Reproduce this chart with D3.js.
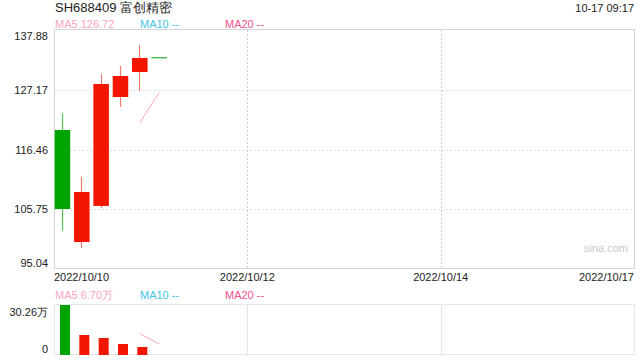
<!DOCTYPE html>
<html>
<head>
<meta charset="utf-8">
<script src="https://cdn.jsdelivr.net/npm/d3@7"></script>
<style>
  body { margin: 0; background: #fff; }
  svg text { font-family: "Liberation Sans", Arial, sans-serif; }
</style>
</head>
<body>
<div id="chart"></div>
<script>
// candle data (one entry per slot, 30 slots across the axis)
var openP  = [119.97,  99.80, 106.30, 125.91, 130.41, 133.06];
var highP  = [122.97, 111.56, 130.05, 131.54, 135.27, 133.06];
var lowP   = [101.84,  98.73, 105.90, 124.11, 127.04, 133.06];
var closeP = [105.75, 108.81, 128.25, 129.69, 132.93, 133.06];
var upDay  = [false, true, true, true, true, false];
var volume = [30.26, 12.10, 10.30, 6.66, 4.84, 0];
var ma5Price  = [null, null, null, null, 121.30, 126.72];
var ma5Volume = [null, null, null, null, 12.83, 6.70];

var priceTicks = [95.04, 105.75, 116.46, 127.17, 137.88];
var volTicks = [0, 30.26];
var dateLabels = ["2022/10/10", "2022/10/12", "2022/10/14", "2022/10/17"];
var dateSlots = [0, 10, 20, 30];
var nSlots = 30;

var svgWidth = 640, svgHeight = 360;
var left = 54, right = 634;
var mainTop = 30, mainBottom = 269;
var volTop = 305, volBottom = 355;

var red = "#f21500", green = "#00a400";
var redWick = "#f47a70", greenWick = "#55c455";
var pink = "#fda4c2", cyan = "#3fc6e6", rose = "#f2508c";

var svg = d3.select("#chart").append("svg").attr("width", svgWidth).attr("height", svgHeight);

var x = d3.scaleLinear().domain([0, nSlots]).range([left, right]);
var slotW = x(1) - x(0);
var y = d3.scaleLinear().domain([95.04, 137.88]).range([268.5, 30.5]);
var yv = d3.scaleLinear().domain([0, 30.26]).range([volBottom, volTop]);

// header
svg.append("text").attr("x", 55).attr("y", 12).attr("font-size", 13).attr("fill", "#222")
   .text("SH688409 富创精密");
svg.append("text").attr("x", 634).attr("y", 12).attr("font-size", 11).attr("fill", "#222")
   .attr("text-anchor", "end").text("10-17 09:17");

function legend(yPos, ma5Text) {
  svg.append("text").attr("x", 55).attr("y", yPos).attr("font-size", 11).attr("fill", pink).text(ma5Text);
  svg.append("text").attr("x", 140).attr("y", yPos).attr("font-size", 11).attr("fill", cyan).text("MA10 --");
  svg.append("text").attr("x", 225).attr("y", yPos).attr("font-size", 11).attr("fill", rose).text("MA20 --");
}
legend(28, "MA5 126.72");
legend(299, "MA5 6.70万");

// main panel grid
var main = svg.append("g");
main.selectAll(".hgrid").data(priceTicks.slice(1, -1)).enter().append("line")
    .attr("x1", left).attr("x2", right)
    .attr("y1", d => Math.round(y(d)) + 0.5).attr("y2", d => Math.round(y(d)) + 0.5)
    .attr("stroke", "#ddd").attr("stroke-dasharray", "2,2");
main.selectAll(".vgrid").data(dateSlots.slice(1, -1)).enter().append("line")
    .attr("x1", d => Math.round(x(d)) + 0.5).attr("x2", d => Math.round(x(d)) + 0.5)
    .attr("y1", mainTop).attr("y2", mainBottom)
    .attr("stroke", "#ccc").attr("stroke-dasharray", "2,2");
main.append("rect").attr("x", left + 0.5).attr("y", mainTop - 0.5)
    .attr("width", right - left).attr("height", mainBottom - mainTop)
    .attr("fill", "none").attr("stroke", "#d4d4d4");

// price axis
var yAxis = svg.append("g").attr("transform", `translate(${left - 3},0)`)
   .call(d3.axisLeft(y).tickValues(priceTicks).tickSize(0).tickFormat(d3.format(".2f")));
yAxis.select(".domain").remove();
yAxis.selectAll("text").attr("font-size", 11).attr("fill", "#222").attr("font-family", null)
     .attr("dy", (d, i) => i === priceTicks.length - 1 ? "0.85em" : (i === 0 ? "-0.2em" : "0.32em"));

// date labels
svg.selectAll(".date").data(dateLabels).enter().append("text")
   .attr("x", (d, i) => x(dateSlots[i]))
   .attr("y", 281).attr("font-size", 11).attr("fill", "#222")
   .attr("text-anchor", (d, i) => i === 0 ? "start" : (i === dateLabels.length - 1 ? "end" : "middle"))
   .text(d => d);

svg.append("text").attr("x", 628).attr("y", 252).attr("font-size", 11).attr("fill", "#c8c8c8")
   .attr("text-anchor", "end").text("sina.com");

// candles
var idx = d3.range(openP.length);
main.selectAll(".wick").data(idx).enter().append("line")
    .attr("x1", i => Math.round(x(i) + 8) + 0.5).attr("x2", i => Math.round(x(i) + 8) + 0.5)
    .attr("y1", i => y(highP[i])).attr("y2", i => y(lowP[i]))
    .attr("stroke", i => upDay[i] ? redWick : greenWick).attr("stroke-width", 1.2);
main.selectAll(".body").data(idx).enter().append("rect")
    .attr("x", i => x(i) + 0.7).attr("width", slotW - 3.8)
    .attr("y", i => y(Math.max(openP[i], closeP[i])))
    .attr("height", i => Math.max(1, Math.abs(y(openP[i]) - y(closeP[i]))))
    .attr("fill", i => upDay[i] ? red : green);

// MA5 price line
var ma5Line = d3.line().defined(d => d[1] !== null).x(d => x(d[0]) + 8.5).y(d => y(d[1]));
main.append("path").datum(idx.map(i => [i, ma5Price[i]]))
    .attr("d", ma5Line).attr("fill", "none").attr("stroke", pink).attr("stroke-width", 1);

// volume panel
var vol = svg.append("g");
vol.append("rect").attr("x", left + 0.5).attr("y", volTop - 0.5)
   .attr("width", right - left).attr("height", volBottom - volTop)
   .attr("fill", "none").attr("stroke", "#ccc").attr("stroke-dasharray", "1,1");
vol.selectAll(".vvgrid").data(dateSlots.slice(1, -1)).enter().append("line")
   .attr("x1", d => Math.round(x(d)) + 0.5).attr("x2", d => Math.round(x(d)) + 0.5)
   .attr("y1", volTop).attr("y2", volBottom)
   .attr("stroke", "#ccc").attr("stroke-dasharray", "1,1");

vol.selectAll(".vbar").data(idx.filter(i => volume[i] > 0)).enter().append("rect")
   .attr("x", i => x(i) + 6).attr("width", 10)
   .attr("y", i => yv(volume[i])).attr("height", i => yv(0) - yv(volume[i]))
   .attr("fill", i => upDay[i] ? red : green);

var ma5VolLine = d3.line().defined(d => d[1] !== null).x(d => x(d[0]) + 8.5).y(d => yv(d[1]));
vol.append("path").datum(idx.map(i => [i, ma5Volume[i]]))
   .attr("d", ma5VolLine).attr("fill", "none").attr("stroke", pink).attr("stroke-width", 1);

var vAxis = svg.append("g").attr("transform", `translate(${left - 3},0)`)
   .call(d3.axisLeft(yv).tickValues(volTicks).tickSize(0).tickFormat(d => d === 0 ? "0" : d3.format(".2f")(d) + "万"));
vAxis.select(".domain").remove();
vAxis.selectAll("text").attr("font-size", 11).attr("fill", "#222").attr("font-family", null)
     .attr("dy", (d, i) => i === 0 ? "-0.25em" : "0.95em");
</script>
</body>
</html>
